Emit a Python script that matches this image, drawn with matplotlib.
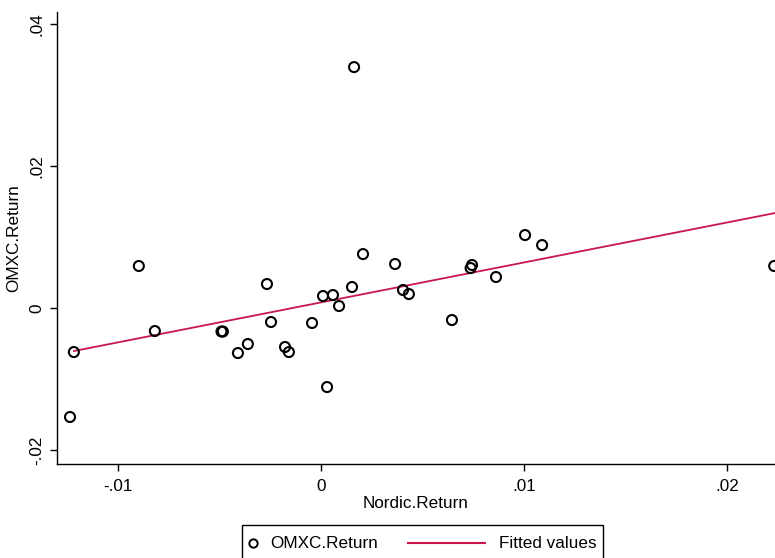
import matplotlib
matplotlib.use("Agg")
import matplotlib.pyplot as plt
from matplotlib.lines import Line2D
from matplotlib.patches import Rectangle

plt.rcParams['font.family'] = ['Liberation Sans', 'DejaVu Sans']

# scatter values
nordic = [-0.01236, -0.01217, -0.00897, -0.00818, -0.00490, -0.00483, -0.00409, -0.00360,
          -0.00266, -0.00246, -0.00177, -0.00158, -0.00044, 0.00010, 0.00030, 0.00059,
          0.00089, 0.00153, 0.00163, 0.00207, 0.00365, 0.00404, 0.00433, 0.00645,
          0.00737, 0.00744, 0.00862, 0.01005, 0.01089, 0.02232]
omxc = [-0.01535, -0.00620, 0.00592, -0.00324, -0.00331, -0.00331, -0.00634, -0.00507,
        0.00338, -0.00197, -0.00549, -0.00620, -0.00211, 0.00169, -0.01113, 0.00183,
        0.00028, 0.00296, 0.03394, 0.00760, 0.00620, 0.00254, 0.00197, -0.00169,
        0.00563, 0.00606, 0.00437, 0.01028, 0.00887, 0.00592]

# fitted line end points
fit_x = [-0.01217, 0.02236]
fit_y = [-0.00606, 0.01338]

xticks = [-0.01, 0, 0.01, 0.02]
xlabels = ['-.01', '0', '.01', '.02']
yticks = [-0.02, 0, 0.02, 0.04]
ylabels = ['-.02', '0', '.02', '.04']
legend_labels = ['OMXC.Return', 'Fitted values']

red = '#c8174a'
fs = 12.3
W, H = 775, 558

fig = plt.figure(figsize=(7.75, 5.58), dpi=100)
ax = fig.add_axes([57 / W, 1 - 464 / H, 1 - 57 / W, (464 - 12) / H])

ax.plot(fit_x, fit_y, color=red, lw=1.3, zorder=2, clip_on=False)
ax.scatter(nordic, omxc, s=52, facecolors='none', edgecolors='black', linewidths=1.5, zorder=3)

ax.set_xlim(-0.0130, 0.02236)
ax.set_ylim(-0.02197, 0.0417)

ax.set_xticks(xticks)
ax.set_xticklabels(xlabels)
ax.set_yticks(yticks)
ax.set_yticklabels(ylabels, rotation=90, va='center')
ax.tick_params(axis='both', direction='out', length=5, width=1, labelsize=fs, colors='black', pad=6)
ax.tick_params(axis='y', pad=4)

for s in ['top', 'right']:
    ax.spines[s].set_visible(False)
for s in ['left', 'bottom']:
    ax.spines[s].set_linewidth(1)

ax.set_xlabel('Nordic.Return', fontsize=fs, labelpad=1)
ax.set_ylabel('OMXC.Return', fontsize=fs, labelpad=6)

# legend drawn by hand (Stata style, box runs off the bottom edge)
fig.patches.append(Rectangle((242 / W, -0.05), (603 - 242) / W, 0.05 + 1 - 525 / H,
                             transform=fig.transFigure, fill=False, edgecolor='black', lw=1))
ly = 1 - 543 / H
fig.lines.append(Line2D([253 / W], [ly], transform=fig.transFigure, marker='o', ls='none',
                        markerfacecolor='none', markeredgecolor='black', markersize=6,
                        markeredgewidth=1.4))
fig.text(270 / W, ly, legend_labels[0], fontsize=fs, va='center', ha='left')
fig.lines.append(Line2D([408 / W, 485 / W], [ly, ly], transform=fig.transFigure, color=red, lw=1.5))
fig.text(499 / W, ly, legend_labels[1], fontsize=fs, va='center', ha='left')

fig.savefig('out.png', dpi=100)
